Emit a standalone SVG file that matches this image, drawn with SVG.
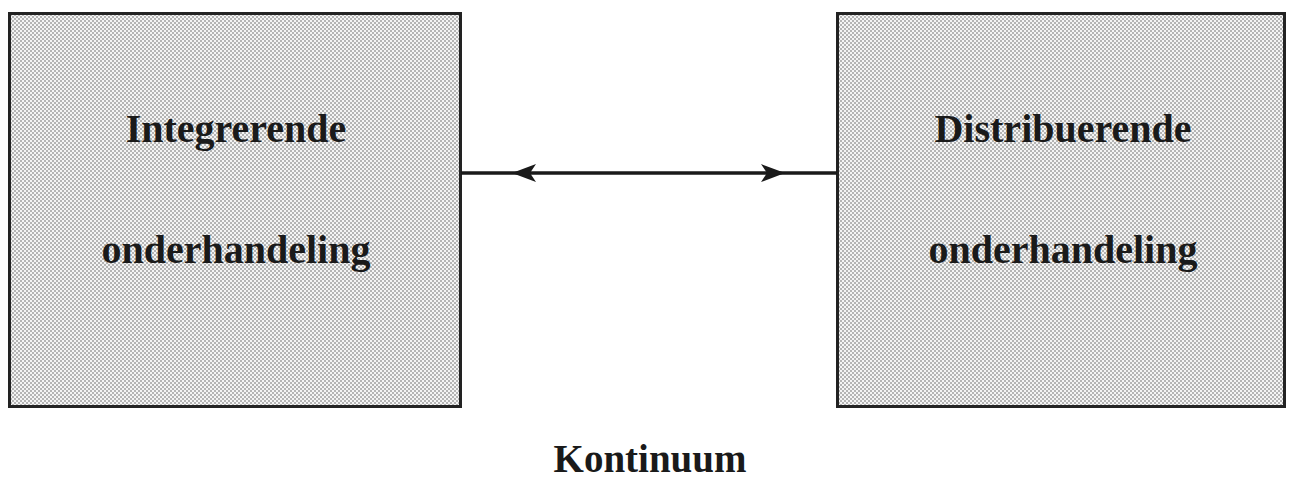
<svg xmlns="http://www.w3.org/2000/svg" width="1293" height="482" viewBox="0 0 1293 482">
  <style>
    .box { fill: url(#dots); stroke: #222; stroke-width: 3; }
    .lbl { font-family: "Liberation Serif", "Times New Roman", serif; font-weight: bold; font-size: 40px; fill: #1a1a1a; text-anchor: middle; }
    .cap { font-size: 39px; }
    .conn { stroke: #1a1a1a; stroke-width: 3.5; fill: none; }
  </style>
  <defs>
    <pattern id="dots" width="4" height="4" patternUnits="userSpaceOnUse">
      <rect width="4" height="4" fill="#f4f4f4"/>
      <rect x="0" y="0" width="2" height="2" fill="#b4b4b4"/>
      <rect x="2" y="2" width="2" height="2" fill="#b4b4b4"/>
    </pattern>
  </defs>
  <rect width="1293" height="482" fill="#ffffff"/>
  <g id="node-integrerende">
    <rect class="box" x="9.5" y="13.5" width="451" height="393"/>
    <text class="lbl" x="236" y="142">Integrerende</text>
    <text class="lbl" x="236" y="263">onderhandeling</text>
  </g>
  <g id="node-distribuerende">
    <rect class="box" x="837.5" y="13.5" width="447" height="393"/>
    <text class="lbl" x="1063" y="142">Distribuerende</text>
    <text class="lbl" x="1063" y="263">onderhandeling</text>
  </g>
  <g id="connectors">
    <line class="conn" x1="461" y1="173" x2="837" y2="173"/>
    <path d="M536,164 L512,173 L536,182 L530,173 Z" fill="#1a1a1a"/>
    <path d="M761,164 L785,173 L761,182 L767,173 Z" fill="#1a1a1a"/>
  </g>
  <g id="caption">
    <text class="lbl cap" x="650" y="472">Kontinuum</text>
  </g>
</svg>
